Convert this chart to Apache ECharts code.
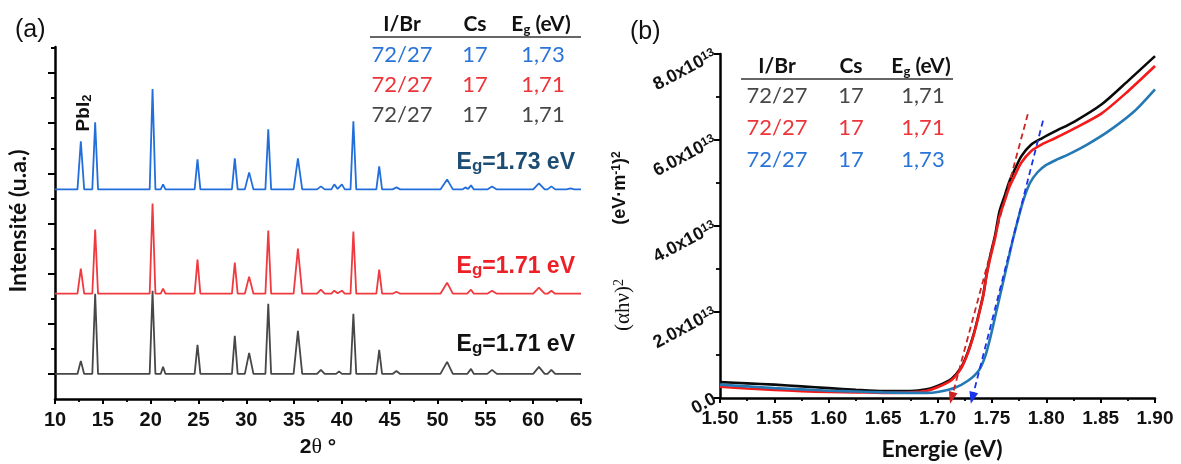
<!DOCTYPE html>
<html><head><meta charset="utf-8">
<script src="https://cdn.jsdelivr.net/npm/echarts@6/dist/echarts.min.js"></script>
<style>html,body{margin:0;padding:0;background:#fff}#c{width:1181px;height:464px}</style>
</head><body><div id="c"></div>
<script>
// ---------- Panel (a): XRD patterns, [2theta (deg), intensity (a.u., stacked offsets)] ----------
const xrdBlue = [[10,7.36],[12.35,7.36],[12.7,9.28],[13.05,7.36],[13.9,7.36],[14.2,10.04],[14.5,7.36],[19.9,7.36],[20.2,11.36],[20.5,7.36],[21.05,7.36],[21.3,7.56],[21.55,7.36],[24.6,7.36],[24.9,8.56],[25.2,7.36],[28.5,7.36],[28.8,8.6],[29.1,7.36],[29.85,7.36],[30.3,8.04],[30.75,7.36],[32.0,7.36],[32.3,9.76],[32.6,7.36],[34.95,7.36],[35.4,8.6],[35.85,7.36],[37.4,7.36],[37.8,7.48],[38.2,7.36],[38.9,7.36],[39.2,7.56],[39.55,7.38],[40.0,7.56],[40.3,7.36],[40.9,7.36],[41.2,10.08],[41.5,7.36],[43.6,7.36],[43.9,8.28],[44.2,7.36],[45.3,7.36],[45.7,7.44],[46.1,7.36],[50.3,7.36],[51.0,7.76],[51.6,7.36],[52.6,7.36],[52.9,7.44],[53.2,7.38],[53.5,7.52],[53.8,7.36],[55.2,7.36],[55.7,7.48],[56.2,7.36],[60.0,7.36],[60.6,7.6],[61.2,7.36],[61.5,7.36],[61.9,7.48],[62.3,7.36],[63.5,7.36],[63.9,7.4],[64.3,7.36],[65,7.36]];
const xrdRed = [[10,3.2],[12.35,3.2],[12.7,4.2],[13.05,3.2],[13.9,3.2],[14.2,5.76],[14.5,3.2],[19.9,3.2],[20.2,6.8],[20.5,3.2],[21.05,3.2],[21.3,3.4],[21.55,3.2],[24.6,3.2],[24.9,4.56],[25.2,3.2],[28.5,3.2],[28.8,4.44],[29.1,3.2],[29.85,3.2],[30.3,3.88],[30.75,3.2],[32.0,3.2],[32.3,5.72],[32.6,3.2],[34.95,3.2],[35.4,5.0],[35.85,3.2],[37.4,3.2],[37.8,3.36],[38.2,3.2],[38.9,3.2],[39.2,3.32],[39.55,3.22],[40.0,3.32],[40.3,3.2],[40.9,3.2],[41.2,5.68],[41.5,3.2],[43.6,3.2],[43.9,4.16],[44.2,3.2],[45.3,3.2],[45.7,3.28],[46.1,3.2],[50.3,3.2],[51.0,3.64],[51.6,3.2],[53.1,3.2],[53.5,3.36],[53.8,3.2],[55.2,3.2],[55.7,3.32],[56.2,3.2],[60.0,3.2],[60.6,3.44],[61.2,3.2],[61.5,3.2],[61.9,3.32],[62.3,3.2],[65,3.2]];
const xrdBlack = [[10,0],[12.35,0],[12.7,0.52],[13.05,0],[13.9,0],[14.2,3.2],[14.5,0],[19.9,0],[20.2,3.32],[20.5,0],[21.05,0],[21.3,0.28],[21.55,0],[24.6,0],[24.9,1.16],[25.2,0],[28.5,0],[28.8,1.52],[29.1,0],[29.85,0],[30.3,0.84],[30.75,0],[32.0,0],[32.3,2.8],[32.6,0],[34.95,0],[35.4,1.72],[35.85,0],[37.4,0],[37.8,0.16],[38.2,0],[39.4,0],[39.7,0.1],[40.0,0],[40.9,0],[41.2,2.4],[41.5,0],[43.6,0],[43.9,0.96],[44.2,0],[45.3,0],[45.7,0.12],[46.1,0],[50.3,0],[51.0,0.48],[51.6,0],[53.1,0],[53.5,0.2],[53.8,0],[55.2,0],[55.7,0.16],[56.2,0],[60.0,0],[60.6,0.28],[61.2,0],[61.5,0],[61.9,0.16],[62.3,0],[65,0]];
const xrdMajorTicks = [0,2,4,6,8,10,12];
const xrdMinorTicks = [1,3,5,7,9,11,13];
const xrdLabels = ['E_g=1.73 eV','E_g=1.71 eV','E_g=1.71 eV'];

// ---------- Panel (b): Tauc plot, [E (eV), (alpha h nu)^2 in 1e13 (eV.m-1)^2] ----------
const taucBlack = [[1.50,0.37],[1.525,0.34],[1.55,0.31],[1.575,0.27],[1.60,0.23],[1.625,0.19],[1.65,0.16],[1.675,0.16],[1.69,0.2],[1.70,0.28],[1.713,0.45],[1.722,0.72],[1.728,1.07],[1.733,1.46],[1.737,1.85],[1.742,2.39],[1.745,2.86],[1.748,3.25],[1.753,3.79],[1.757,4.34],[1.762,4.72],[1.766,5.03],[1.771,5.31],[1.777,5.62],[1.786,5.89],[1.796,6.04],[1.808,6.2],[1.826,6.43],[1.851,6.83],[1.875,7.37],[1.90,7.95]];
const taucRed = [[1.50,0.26],[1.525,0.22],[1.55,0.19],[1.575,0.16],[1.60,0.14],[1.625,0.13],[1.65,0.12],[1.675,0.13],[1.69,0.17],[1.70,0.25],[1.713,0.42],[1.722,0.7],[1.728,1.05],[1.733,1.44],[1.737,1.83],[1.742,2.37],[1.745,2.83],[1.748,3.2],[1.753,3.72],[1.757,4.22],[1.762,4.6],[1.766,4.9],[1.771,5.17],[1.777,5.47],[1.786,5.74],[1.796,5.9],[1.808,6.04],[1.826,6.27],[1.851,6.62],[1.875,7.13],[1.90,7.72]];
const taucBlue = [[1.50,0.31],[1.525,0.27],[1.55,0.23],[1.575,0.2],[1.60,0.17],[1.625,0.15],[1.65,0.13],[1.675,0.12],[1.69,0.12],[1.70,0.14],[1.716,0.24],[1.728,0.4],[1.738,0.64],[1.744,0.98],[1.749,1.45],[1.754,2.0],[1.759,2.55],[1.764,3.1],[1.769,3.65],[1.774,4.15],[1.779,4.6],[1.785,5.0],[1.792,5.25],[1.80,5.42],[1.811,5.56],[1.82,5.66],[1.838,5.9],[1.857,6.2],[1.881,6.67],[1.90,7.18]];
const tangentRed = [[1.783,6.6],[1.713,0]];
const tangentBlue = [[1.797,6.45],[1.732,0]];

// ---------- Tables ----------
const tableHeader = ['I/Br','Cs','E_g (eV)'];
const tableA = [['72/27','17','1,73'],['72/27','17','1,71'],['72/27','17','1,71']];
const tableB = [['72/27','17','1,71'],['72/27','17','1,71'],['72/27','17','1,73']];

const C_BLUE = '#2a74d9', C_RED = '#ec3439', C_GRAY = '#474747';
const tabColorsA = [C_BLUE, C_RED, C_GRAY];
const tabColorsB = [C_GRAY, C_RED, C_BLUE];

const chart = echarts.init(document.getElementById('c'), null, {renderer:'canvas'});

function subText(s, main, sub) {
  const i = s.indexOf('_');
  if (i < 0) return '{' + main + '|' + s + '}';
  return '{' + main + '|' + s.slice(0, i) + '}{' + sub + '|' + s[i+1] + '}{' + main + '|' + s.slice(i+2) + '}';
}

const graphics = [];
function txt(text, x, y, style, extra) {
  graphics.push(Object.assign({type:'text', x, y, z:100, style: Object.assign({text, align:'center', verticalAlign:'middle', fill:'#111'}, style)}, extra || {}));
}
const headRich = {
  h:{fontFamily:'Lato', fontWeight:'bold', fontSize:21, fill:'#111', verticalAlign:'top', lineHeight:22},
  hs:{fontFamily:'Lato', fontWeight:'bold', fontSize:13, fill:'#111', verticalAlign:'bottom', lineHeight:13, padding:[12,0,0,0]}
};
function table(colX, headY, lineX0, lineX1, lineY, rowY, rows, colors) {
  tableHeader.forEach((h, k) => txt(subText(h, 'h', 'hs'), colX[k], headY, {rich: headRich}));
  graphics.push({type:'line', z:100, shape:{x1:lineX0, y1:lineY, x2:lineX1, y2:lineY}, style:{stroke:'#333', lineWidth:1.5}});
  rows.forEach((r, i) => r.forEach((v, k) => txt(v, colX[k] + (k === 2 ? 2 : 0), rowY[i], {fontFamily:'Lato', fontSize:22, fill: colors[i]})));
}
table([402, 475, 541], 25, 370, 581, 37, [55, 85, 115], tableA, tabColorsA);
table([777, 851, 921], 67, 741, 953, 79, [96, 128, 160], tableB, tabColorsB);

// panel letters
txt('(a)', 15, 30, {fontFamily:'Liberation Sans', fontSize:25, align:'left'});
txt('(b)', 630, 32, {fontFamily:'Liberation Sans', fontSize:25, align:'left'});

// Eg labels in (a)
const egRich = c => ({
  e:{fontFamily:'Liberation Sans', fontWeight:'bold', fontSize:23, fill:c, verticalAlign:'top', lineHeight:24},
  g:{fontFamily:'Liberation Sans', fontWeight:'bold', fontSize:17, fill:c, verticalAlign:'bottom', lineHeight:17, padding:[12,0,0,0]}
});
const egColors = ['#1d4d73', '#ee1f26', '#111111'];
const egY = [163, 267, 345];
xrdLabels.forEach((s, i) => txt(subText(s, 'e', 'g'), 575, egY[i], {align:'right', rich: egRich(egColors[i])}));

// PbI2
txt('{p|PbI}{s|2}', 84, 113, {rich:{
  p:{fontFamily:'Liberation Sans', fontWeight:'bold', fontSize:19, fill:'#111', verticalAlign:'top', lineHeight:20},
  s:{fontFamily:'Liberation Sans', fontWeight:'bold', fontSize:13, fill:'#111', verticalAlign:'bottom', lineHeight:13, padding:[10,0,0,0]}
}}, {rotation: Math.PI/2});

// axis titles
txt('Intensité (u.a.)', 19, 221, {fontFamily:'Lato', fontWeight:'bold', fontSize:23}, {rotation: Math.PI/2});
txt('{a|2}{t|θ}{a| °}', 318, 447, {rich:{
  a:{fontFamily:'Liberation Sans', fontWeight:'bold', fontSize:21, fill:'#111'},
  t:{fontFamily:'Liberation Serif', fontSize:22, fill:'#111'}
}});
txt('Energie (eV)', 942, 450, {fontFamily:'Lato', fontWeight:'bold', fontSize:23});
const supRich = (fam, w, fs) => ({
  p:{fontFamily:fam, fontWeight:w, fontSize:fs, fill:'#111', verticalAlign:'bottom', lineHeight:fs, padding:[5,0,0,0]},
  s:{fontFamily:fam, fontWeight:w, fontSize:Math.round(fs*0.65), fill:'#111', verticalAlign:'top', lineHeight:Math.round(fs*0.65)}
});
txt('{p|(eV·m}{s|-1}{p|)}{s|2}', 620, 188, {rich: supRich('Liberation Sans', 'bold', 18)}, {rotation: Math.PI/2});
txt('{p|(αhν)}{s|2}', 623, 305, {rich: supRich('Liberation Serif', 'normal', 21)}, {rotation: Math.PI/2});

const axisCommon = {
  axisLine:{show:true, onZero:false, lineStyle:{color:'#000', width:2.5}},
  splitLine:{show:false}
};
const tickLbl = {fontFamily:'Liberation Sans', fontWeight:'bold', color:'#111'};

const option = {
  animation:false,
  backgroundColor:'#fff',
  graphic: graphics,
  grid:[
    {left:55, top:47, width:526, height:352},
    {left:720, top:54, width:435, height:344}
  ],
  xAxis:[
    Object.assign({type:'value', gridIndex:0, min:10, max:65, interval:5,
      axisTick:{show:true, length:5, lineStyle:{color:'#000', width:2}},
      minorTick:{show:true, splitNumber:2, length:3, lineStyle:{color:'#000', width:1.8}},
      axisLabel:Object.assign({fontSize:20, margin:11}, tickLbl)}, axisCommon),
    Object.assign({type:'value', gridIndex:1, min:1.5, max:1.9, interval:0.05,
      axisTick:{show:true, length:5, lineStyle:{color:'#000', width:2}},
      minorTick:{show:true, splitNumber:2, length:3, lineStyle:{color:'#000', width:1.8}},
      axisLabel:Object.assign({fontSize:19, margin:11, formatter:v => v.toFixed(2)}, tickLbl)}, axisCommon)
  ],
  yAxis:[
    Object.assign({type:'value', gridIndex:0, position:'left', min:-1, max:13.04,
      axisTick:{show:true, length:7, customValues: xrdMajorTicks, lineStyle:{color:'#000', width:2}},
      axisLabel:{show:false}}, axisCommon),
    {type:'value', gridIndex:0, position:'left', offset:0, min:-1, max:13.04,
      axisLine:{show:false}, splitLine:{show:false}, axisLabel:{show:false},
      axisTick:{show:true, length:4, customValues: xrdMinorTicks, lineStyle:{color:'#000', width:2}}},
    Object.assign({type:'value', gridIndex:1, min:0, max:8, interval:2,
      axisTick:{show:true, length:6, lineStyle:{color:'#000', width:2}},
      minorTick:{show:true, splitNumber:2, length:4, lineStyle:{color:'#000', width:1.8}},
      axisLabel:{rotate:28, margin:5,
        formatter: v => v === 0 ? '{m|0.0}' : '{m|' + v.toFixed(1) + 'x10}{s|13}',
        rich:{
          m:{fontFamily:'Liberation Sans', fontWeight:'bold', fontSize:18, color:'#111', verticalAlign:'bottom', lineHeight:18, padding:[5,0,0,0]},
          s:{fontFamily:'Liberation Sans', fontWeight:'bold', fontSize:12, color:'#111', verticalAlign:'top', lineHeight:12}
        }}}, axisCommon)
  ],
  series:[
    {type:'line', xAxisIndex:0, yAxisIndex:0, data:xrdBlack, showSymbol:false, lineStyle:{color:'#474747', width:1.8}},
    {type:'line', xAxisIndex:0, yAxisIndex:0, data:xrdRed, showSymbol:false, lineStyle:{color:'#ef3a40', width:1.8}},
    {type:'line', xAxisIndex:0, yAxisIndex:0, data:xrdBlue, showSymbol:false, lineStyle:{color:'#226fdc', width:1.8}},
    {type:'line', xAxisIndex:1, yAxisIndex:2, data:taucBlack, showSymbol:false, smooth:0.25, lineStyle:{color:'#0a0a0a', width:2.6}},
    {type:'line', xAxisIndex:1, yAxisIndex:2, data:taucRed, showSymbol:false, smooth:0.25, lineStyle:{color:'#f41a1a', width:2.6}},
    {type:'line', xAxisIndex:1, yAxisIndex:2, data:taucBlue, showSymbol:false, smooth:0.25, lineStyle:{color:'#2479b5', width:2.6}},
    {type:'line', xAxisIndex:1, yAxisIndex:2, data:[], silent:true,
      markLine:{silent:true, animation:false, symbol:['none','triangle'], symbolSize:[9,12], label:{show:false},
        lineStyle:{color:'#cc2424', type:[6,4], width:1.8},
        data:[[{coord:tangentRed[0]},{coord:tangentRed[1]}]]}},
    {type:'line', xAxisIndex:1, yAxisIndex:2, data:[], silent:true,
      markLine:{silent:true, animation:false, symbol:['none','triangle'], symbolSize:[9,12], label:{show:false},
        lineStyle:{color:'#1a33ee', type:[6,4], width:1.8},
        data:[[{coord:tangentBlue[0]},{coord:tangentBlue[1]}]]}}
  ]
};
chart.setOption(option);
</script></body></html>
